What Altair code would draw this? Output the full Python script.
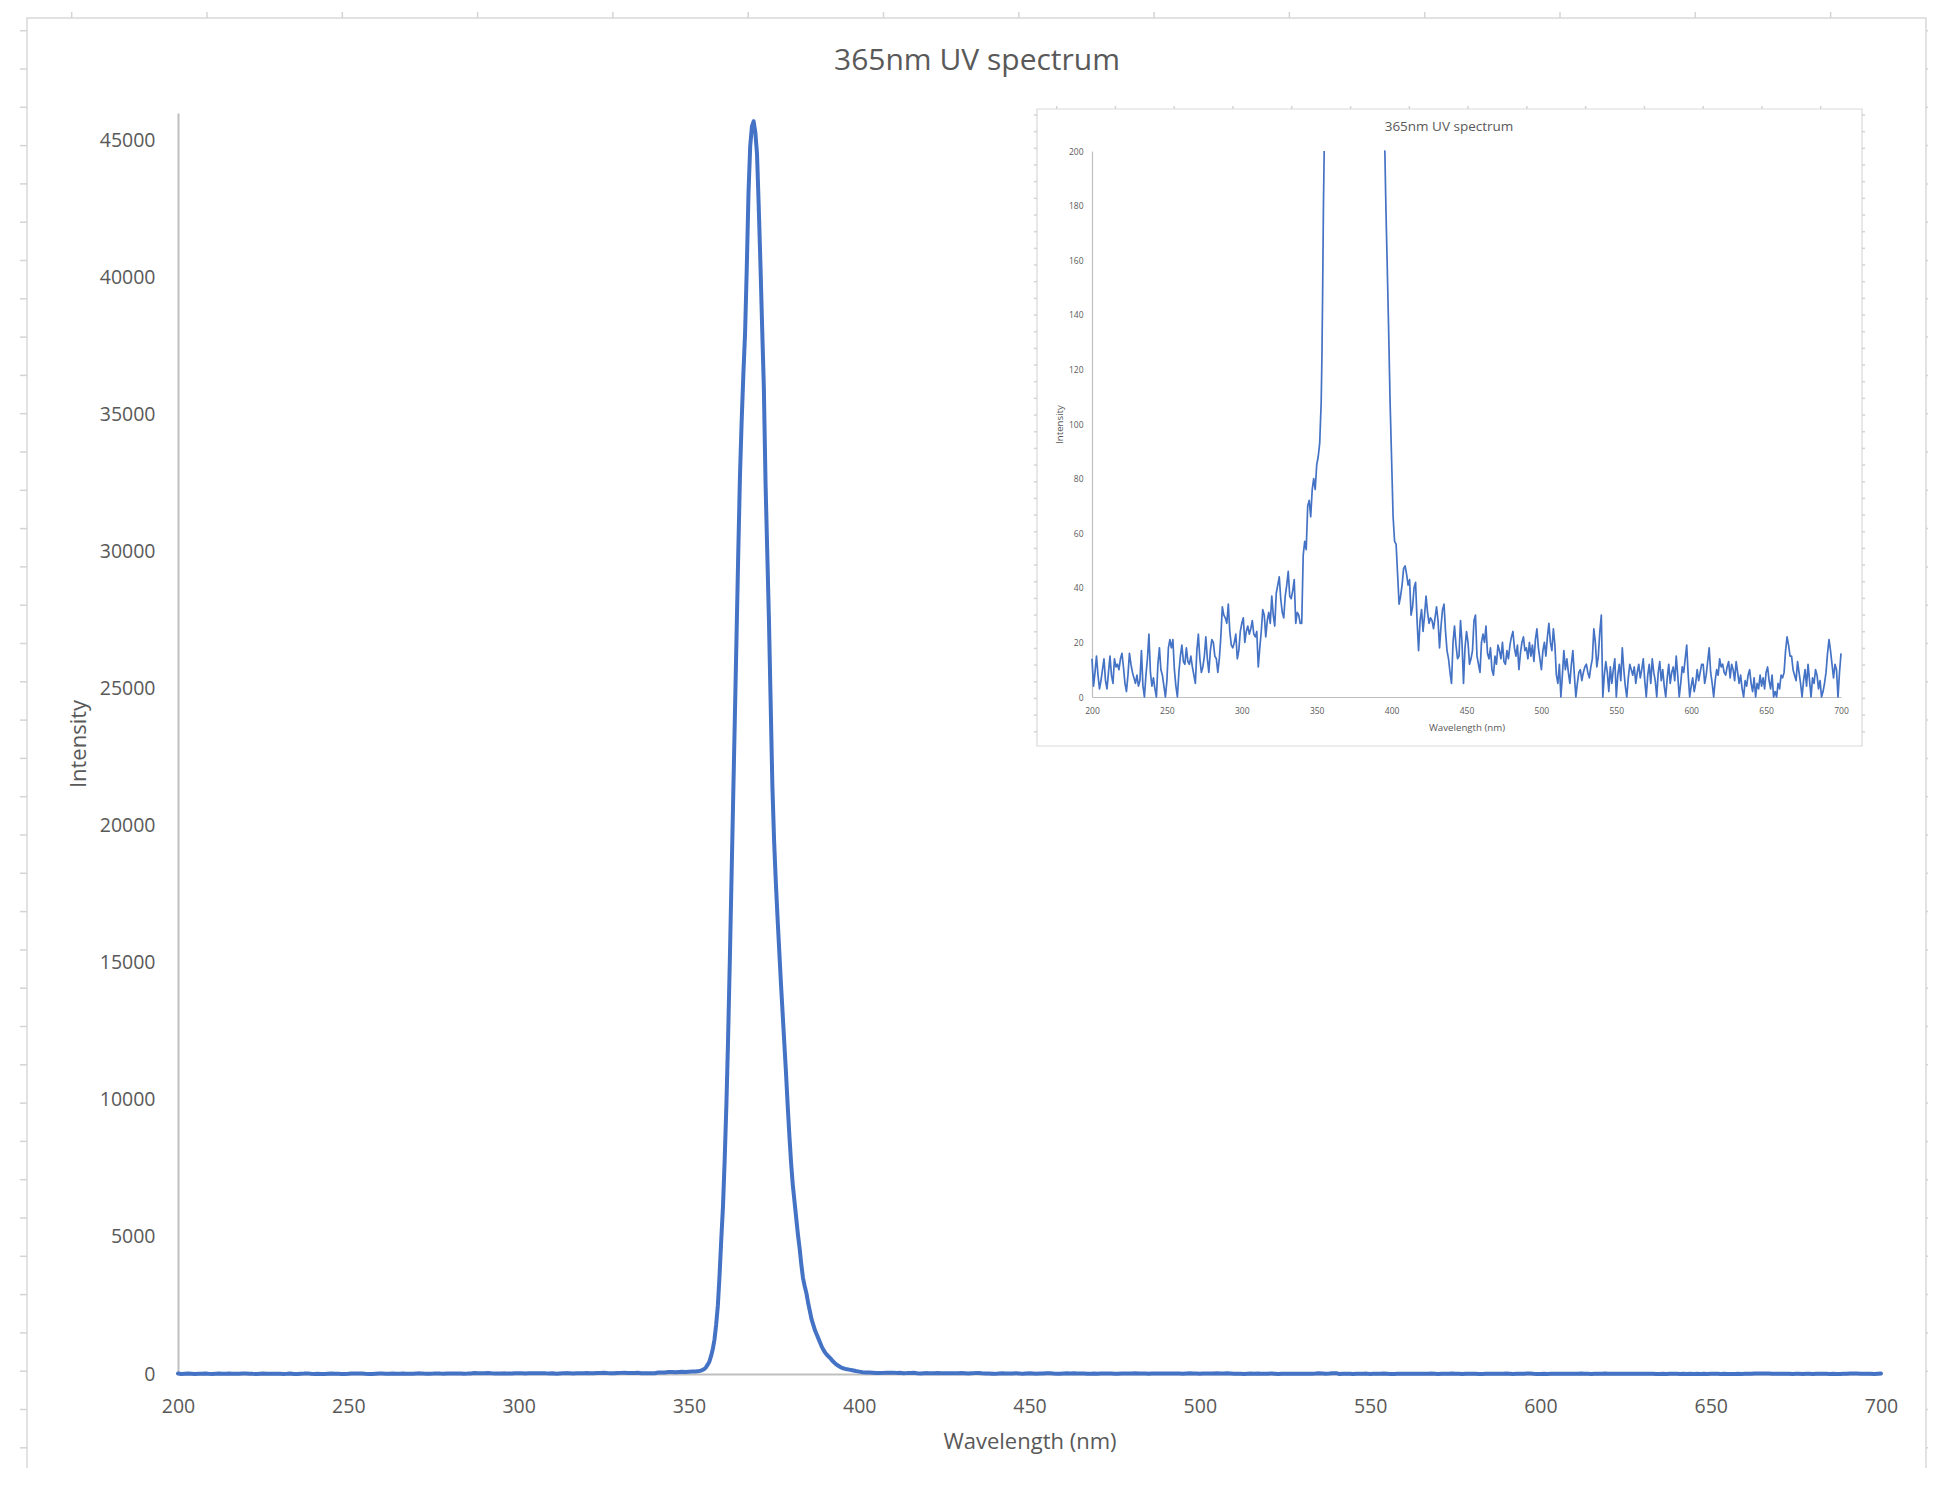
import altair as alt
import pandas as pd

# ---------------- data ----------------
# 200..352 nm, 1 nm steps (noise floor + left shoulder)
wl_left = list(range(200, 353))
int_left = [
    14, 4, 9, 15, 8, 3, 6, 10, 14, 6,
    3, 9, 15, 8, 5, 14, 11, 12, 10, 14,
    16, 11, 5, 2, 8, 16, 12, 9, 7, 5,
    8, 4, 6, 17, 4, 0, 8, 14, 23, 9,
    4, 7, 3, 0, 12, 18, 10, 8, 4, 0,
    6, 18, 21, 18, 21, 10, 4, 0, 9, 15,
    19, 13, 12, 18, 13, 12, 15, 11, 8, 5,
    17, 23, 14, 9, 11, 15, 22, 14, 9, 17,
    21, 20, 15, 14, 9, 14, 22, 33, 30, 29,
    27, 34, 24, 19, 18, 20, 23, 14, 17, 24,
    27, 29, 20, 24, 26, 23, 25, 28, 23, 22,
    24, 11, 18, 24, 32, 30, 22, 28, 31, 27,
    37, 30, 26, 38, 41, 44, 36, 31, 29, 37,
    41, 46, 37, 36, 39, 43, 27, 31, 30, 27,
    27, 52, 57, 54, 70, 72, 66, 76, 80, 76,
    85, 88, 93,
]

# 353.0..396.5 nm, 0.5 nm steps (the emission peak)
wl_peak = [353 + 0.5 * i for i in range(88)]
int_peak = [
    108, 125, 150, 180, 240, 340, 450, 650, 900, 1250, 1800, 2500,
    3600, 4900, 6100, 7800, 9800, 12200, 15000, 18000, 21000, 24000, 27000, 30000,
    32800, 34800, 36500, 38000, 40400, 43100, 44800, 45500, 45700, 45300, 44500, 42600,
    40500, 38200, 36000, 32500, 30000, 27500, 24500, 21500, 19500, 18000, 16700, 15500,
    14300, 13200, 12100, 11000, 9800, 8700, 7700, 6900, 6300, 5700, 5100, 4600,
    4000, 3500, 3200, 2950, 2600, 2300, 2000, 1800, 1600, 1450, 1300, 1150,
    1000, 880, 780, 700, 640, 580, 500, 440, 380, 330, 290, 250,
    220, 200, 185, 172,
]

# 397..700 nm, 1 nm steps (right tail + noise floor)
wl_right = list(range(397, 701))
int_right = [
    160, 135, 108, 87, 66, 57, 56, 45, 34, 37,
    41, 47, 48, 45, 41, 43, 30, 33, 40, 42,
    28, 17, 28, 32, 24, 30, 37, 31, 27, 29,
    28, 25, 29, 33, 28, 18, 26, 32, 34, 24,
    17, 14, 9, 5, 20, 26, 19, 14, 15, 28,
    20, 5, 18, 24, 20, 12, 14, 17, 28, 30,
    15, 12, 9, 20, 23, 20, 26, 16, 14,
    18, 10, 8, 15, 12, 19, 17, 14, 20, 13,
    12, 17, 14, 19, 22, 24, 18, 15, 19, 10,
    16, 20, 22, 17, 18, 14, 20, 15, 19, 13,
    21, 25, 18, 14, 10, 17, 20, 15, 22, 27,
    20, 17, 25, 19, 8, 5, 12, 0, 8, 17,
    10, 14, 9, 5, 12, 17, 8, 0, 5, 9,
    10, 6, 9, 11, 12, 9, 7, 11, 14, 25,
    20, 11, 15, 24, 30, 0, 8, 13, 9, 2,
    11, 5, 10, 14, 0, 8, 12, 6, 18, 10,
    4, 0, 7, 12, 10, 8, 11, 5, 9, 12,
    7, 10, 14, 6, 0, 8, 12, 5, 14, 9,
    6, 0, 9, 13, 6, 10, 4, 0, 7, 12,
    5, 9, 11, 6, 15, 8, 0, 5, 11, 9,
    14, 19, 8, 0, 4, 7, 2, 5, 10, 6,
    9, 12, 12, 5, 8, 13, 18, 9, 5, 0,
    6, 10, 8, 14, 11, 12, 9, 8, 11, 13,
    7, 12, 10, 6, 13, 9, 5, 8, 3, 0,
    6, 4, 8, 10, 5, 2, 7, 0, 5, 3,
    8, 4, 7, 3, 9, 11, 6, 3, 8, 0,
    2, 0, 5, 3, 8, 7, 9, 17, 22, 19,
    15, 15, 10, 8, 6, 13, 9, 5, 0, 6,
    10, 4, 12, 6, 0, 7, 5, 10, 8, 3,
    6, 0, 2, 5, 9, 16, 21, 17, 12, 7,
    12, 10, 0, 9, 16,
]

x_ticks = [200, 250, 300, 350, 400, 450, 500, 550, 600, 650, 700]
main_y_ticks = [0, 5000, 10000, 15000, 20000, 25000, 30000, 35000, 40000, 45000]
inset_y_ticks = [0, 20, 40, 60, 80, 100, 120, 140, 160, 180, 200]
title_text = "365nm UV spectrum"
x_title = "Wavelength (nm)"
y_title = "Intensity"

# ---------------- tables ----------------
wl = wl_left + wl_peak + wl_right
inten = int_left + int_peak + int_right
df = pd.DataFrame({"wl": wl, "intensity": inten})

# inset: 0-200 zoom; the part of the peak above the axis is left out (two pieces)
left_part = df[df.wl <= 355.0].assign(seg="a")
right_part = df[df.wl >= 395.0].assign(seg="b")
inset_df = pd.concat([left_part, right_part], ignore_index=True)

# ---------------- style ----------------
FONT = "Open Sans"
TXT = "#595959"
AXIS = "#bfbfbf"
BORDER = "#d9d9d9"
GRIDC = "#d4d4d4"
BLUE = "#4472C4"
W, H = 1703, 1261

one = pd.DataFrame({"k": [0]})

outer_border = alt.Chart(one).mark_rect(
    filled=False, stroke=BORDER, strokeWidth=1.5
).encode(x=alt.value(-151), x2=alt.value(1748), y=alt.value(-95), y2=alt.value(1420))


def vticks(start, step, n, y0, y1):
    return alt.Chart(alt.sequence(0, n, as_="k")).transform_calculate(
        px=f"{start} + {step} * datum.k"
    ).mark_rule(color=GRIDC, strokeWidth=1.5).encode(
        x=alt.X("px:Q", scale=None, axis=None), y=alt.value(y0), y2=alt.value(y1)
    )


def hticks(start, step, n, x0, x1):
    return alt.Chart(alt.sequence(0, n, as_="k")).transform_calculate(
        py=f"{start} + {step} * datum.k"
    ).mark_rule(color=GRIDC, strokeWidth=1.5).encode(
        y=alt.Y("py:Q", scale=None, axis=None), x=alt.value(x0), x2=alt.value(x1)
    )


cell_ticks = [
    vticks(-106.3, 135.3, 14, -101, -95),
    hticks(-82.3, 38.3, 38, -158, -151),
    hticks(-82.3, 38.3, 38, 1748, 1752),
]

main_title = alt.Chart(pd.DataFrame({"t": [title_text]})).mark_text(
    font=FONT, fontSize=30, color=TXT, align="center", baseline="middle"
).encode(text="t:N", x=alt.value(799), y=alt.value(-52))

main_line = alt.Chart(df).mark_line(
    color=BLUE, strokeWidth=4, strokeJoin="round", strokeCap="round"
).encode(
    x=alt.X(
        "wl:Q",
        scale=alt.Scale(domain=[200, 700], nice=False, zero=False),
        axis=alt.Axis(
            orient="bottom", values=x_ticks, format="d", title=x_title,
            ticks=False, tickSize=0, grid=False,
            domainColor=AXIS, domainWidth=2,
            labelFont=FONT, labelFontSize=19.5, labelColor=TXT, labelPadding=23,
            labelFlush=False, labelOverlap=False, labelBound=False,
            titleFont=FONT, titleFontSize=22, titleColor=TXT, titleFontWeight="normal",
            titleY=67, titleBaseline="middle",
        ),
    ),
    y=alt.Y(
        "intensity:Q",
        scale=alt.Scale(domain=[0, 46000], nice=False, zero=False),
        axis=alt.Axis(
            orient="left", values=main_y_ticks, format="d", title=y_title,
            ticks=False, tickSize=0, grid=False,
            domainColor=AXIS, domainWidth=2,
            labelFont=FONT, labelFontSize=19.5, labelColor=TXT, labelPadding=23,
            labelFlush=False, labelOverlap=False, labelBound=False,
            titleFont=FONT, titleFontSize=22, titleColor=TXT, titleFontWeight="normal",
            titleX=-100, titleBaseline="middle",
        ),
    ),
)

inset_border = alt.Chart(one).mark_rect(
    filled=False, stroke=BORDER, strokeWidth=1.2
).encode(x=alt.value(859), x2=alt.value(1684), y=alt.value(-4), y2=alt.value(633))

inset_cell_ticks = [
    vticks(878.7, 58.77, 14, -7, -4),
    hticks(2, 16.67, 38, 856, 859),
    hticks(2, 16.67, 38, 1684, 1687),
]

inset_line = alt.Chart(inset_df).mark_line(
    color=BLUE, strokeWidth=1.7, strokeJoin="round"
).encode(
    x=alt.X(
        "wl:Q",
        scale=alt.Scale(domain=[200, 700], range=[914, 1663], nice=False, zero=False),
        axis=alt.Axis(
            orient="bottom", offset=-677, values=x_ticks, format="d", title=x_title,
            ticks=False, tickSize=0, grid=False,
            domainColor=AXIS, domainWidth=1.2,
            labelFont=FONT, labelFontSize=8.5, labelColor=TXT, labelPadding=9,
            labelFlush=False, labelOverlap=False, labelBound=False,
            titleFont=FONT, titleFontSize=9.7, titleColor=TXT, titleFontWeight="normal",
            titleY=30, titleBaseline="middle",
        ),
    ),
    y=alt.Y(
        "intensity:Q",
        scale=alt.Scale(domain=[0, 200], range=[584, 38], nice=False, zero=False, clamp=True),
        axis=alt.Axis(
            orient="left", offset=-914, values=inset_y_ticks, format="d", title=y_title,
            ticks=False, tickSize=0, grid=False,
            domainColor=AXIS, domainWidth=1.2,
            labelFont=FONT, labelFontSize=8.5, labelColor=TXT, labelPadding=9,
            labelFlush=False, labelOverlap=False, labelBound=False,
            titleFont=FONT, titleFontSize=9.7, titleColor=TXT, titleFontWeight="normal",
            titleX=-33, titleBaseline="middle",
        ),
    ),
    detail="seg:N",
)

inset_title = alt.Chart(pd.DataFrame({"t": [title_text]})).mark_text(
    font=FONT, fontSize=13.5, color=TXT, align="center", baseline="middle"
).encode(text="t:N", x=alt.value(1271), y=alt.value(14))

chart = alt.layer(
    outer_border, *cell_ticks, main_title, main_line,
    inset_border, *inset_cell_ticks, inset_line, inset_title,
).resolve_scale(x="independent", y="independent").properties(
    width=W, height=H,
    background="white",
    autosize=alt.AutoSizeParams(type="none"),
    padding={"left": 170, "top": 105, "right": 47, "bottom": 94},
).configure_view(stroke="transparent", strokeWidth=0)

chart.save("out.html", embed_options={"renderer": "svg", "actions": False})
